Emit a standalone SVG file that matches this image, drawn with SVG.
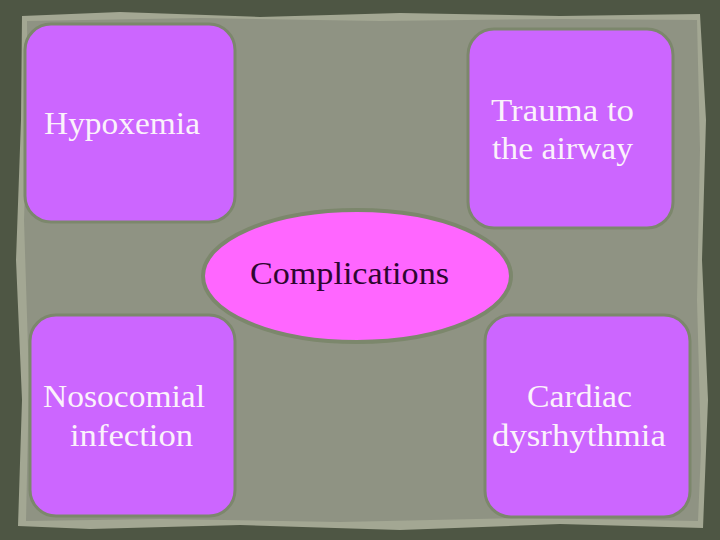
<svg xmlns="http://www.w3.org/2000/svg" width="720" height="540" viewBox="0 0 720 540">
<style>
.box{fill:#CC66FF;stroke:#7C876C;stroke-width:3}
.lbl{font-family:"Liberation Serif","DejaVu Serif",serif;font-size:31px;fill:#FBF2FB}
.ctr{font-family:"Liberation Serif","DejaVu Serif",serif;font-size:31px;fill:#2E0630}
</style>
<rect x="0" y="0" width="720" height="540" fill="#4E5644"/>
<polygon points="22,16 120,12 260,17 400,13 560,16 700,14 706,120 702,260 708,400 703,528 560,524 400,530 240,525 90,529 18,526 22,400 16,260 21,120" fill="#A3A793"/>
<polygon points="27,21 200,18 380,21 560,19 697,20 700,150 697,300 701,450 698,521 520,518 340,522 160,519 26,521 29,380 24,220 28,100" fill="#8F9383"/>
<g id="hypoxemia"><rect class="box" x="25" y="24" width="210" height="198" rx="26"/><text class="lbl" x="44" y="134" textLength="156" lengthAdjust="spacingAndGlyphs">Hypoxemia</text></g>
<g id="trauma"><rect class="box" x="468" y="29" width="205" height="199" rx="26"/><text class="lbl" x="491" y="121" textLength="143" lengthAdjust="spacingAndGlyphs">Trauma to</text><text class="lbl" x="492" y="159" textLength="141" lengthAdjust="spacingAndGlyphs">the airway</text></g>
<g id="nosocomial"><rect class="box" x="30" y="315" width="205" height="201" rx="26"/><text class="lbl" x="43" y="407" textLength="162" lengthAdjust="spacingAndGlyphs">Nosocomial</text><text class="lbl" x="70" y="446" textLength="123" lengthAdjust="spacingAndGlyphs">infection</text></g>
<g id="cardiac"><rect class="box" x="485" y="315" width="205" height="202" rx="26"/><text class="lbl" x="527" y="407" textLength="105" lengthAdjust="spacingAndGlyphs">Cardiac</text><text class="lbl" x="492" y="446" textLength="174" lengthAdjust="spacingAndGlyphs">dysrhythmia</text></g>
<g id="complications"><ellipse cx="357" cy="276" rx="154" ry="66" fill="#FF66FF" stroke="#7C876C" stroke-width="4"/><text class="ctr" x="250" y="284" textLength="199" lengthAdjust="spacingAndGlyphs">Complications</text></g>
<g id="connectors"></g>
</svg>
